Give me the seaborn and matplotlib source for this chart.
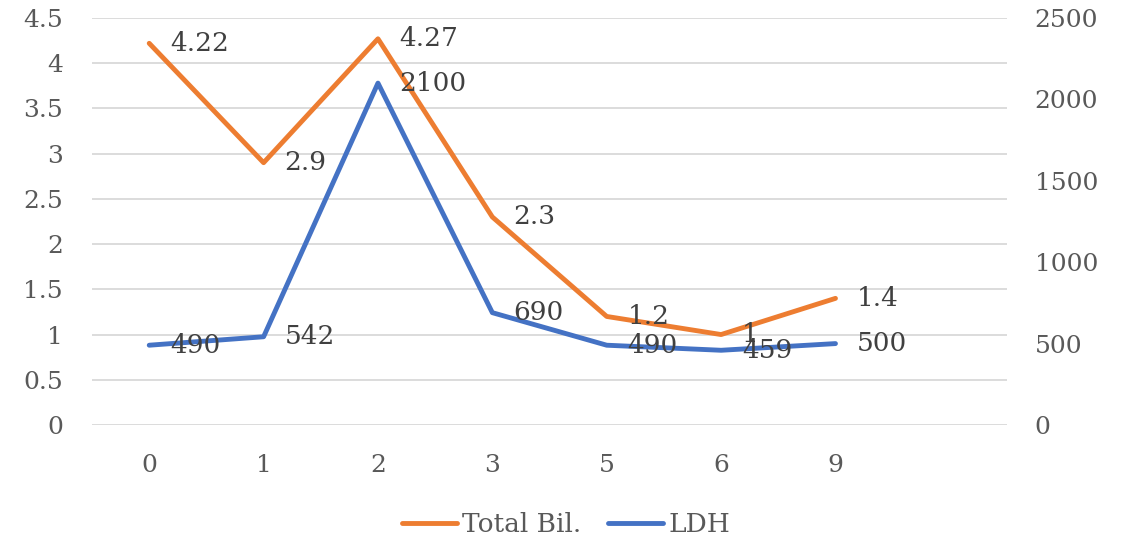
import pandas as pd
import matplotlib
matplotlib.use("Agg")
import matplotlib.pyplot as plt
import seaborn as sns
from matplotlib.lines import Line2D

# chart data
days = ["0", "1", "2", "3", "5", "6", "9"]
total_bil = [4.22, 2.9, 4.27, 2.3, 1.2, 1, 1.4]
ldh = [490, 542, 2100, 690, 490, 459, 500]
left_ticks = [0, 0.5, 1, 1.5, 2, 2.5, 3, 3.5, 4, 4.5]
right_ticks = [0, 500, 1000, 1500, 2000, 2500]

ORANGE = "#ED7D31"
BLUE = "#4472C4"
TICK_COL = "#595959"
LABEL_COL = "#404040"

sns.set_style("white")
plt.rcParams["font.family"] = ["DejaVu Serif"]

df = pd.DataFrame({"day": days, "total_bil": total_bil, "ldh": ldh})

fig = plt.figure(figsize=(11.32, 5.45), dpi=100)
ax = fig.add_axes([0.0813, 0.2202, 0.8083, 0.7468])
ax2 = ax.twinx()

sns.lineplot(data=df, x="day", y="total_bil", ax=ax, color=ORANGE,
             linewidth=3.5, sort=False)
sns.lineplot(data=df, x="day", y="ldh", ax=ax2, color=BLUE,
             linewidth=3.5, sort=False)

ax.set_xlim(-0.5, 7.5)
ax.set_ylim(0, 4.5)
ax2.set_ylim(0, 2500)
ax.set_yticks(left_ticks)
ax.set_yticklabels([f"{t:g}" for t in left_ticks])
ax2.set_yticks(right_ticks)
ax2.set_xlim(-0.5, 7.5)

ax.grid(axis="y", color="#D9D9D9", linewidth=1.3)
ax.grid(axis="x", visible=False)
ax2.grid(False)
for a in (ax, ax2):
    for s in a.spines.values():
        s.set_visible(False)
    a.set_xlabel("")
    a.set_ylabel("")
    a.tick_params(length=0, labelsize=18, labelcolor=TICK_COL)

ax.tick_params(axis="y", pad=21)
ax2.tick_params(axis="y", pad=20)
ax.tick_params(axis="x", pad=21)

# data labels to the right of each point
for i, v in enumerate(total_bil):
    ax.annotate(f"{v:g}", (i, v), xytext=(15, 0), textcoords="offset points",
                ha="left", va="center", fontsize=19, color=LABEL_COL)
for i, v in enumerate(ldh):
    ax2.annotate(f"{v:g}", (i, v), xytext=(15, 0), textcoords="offset points",
                 ha="left", va="center", fontsize=19, color=LABEL_COL)

handles = [Line2D([], [], color=ORANGE, linewidth=3.5),
           Line2D([], [], color=BLUE, linewidth=3.5)]
fig.legend(handles, ["Total Bil.", "LDH"], loc="center",
           bbox_to_anchor=(0.5, 0.037), ncol=2, frameon=False, fontsize=19,
           labelcolor=TICK_COL, handlelength=2.1, handletextpad=0.2,
           columnspacing=1.0)

fig.savefig("out.png", dpi=100)
